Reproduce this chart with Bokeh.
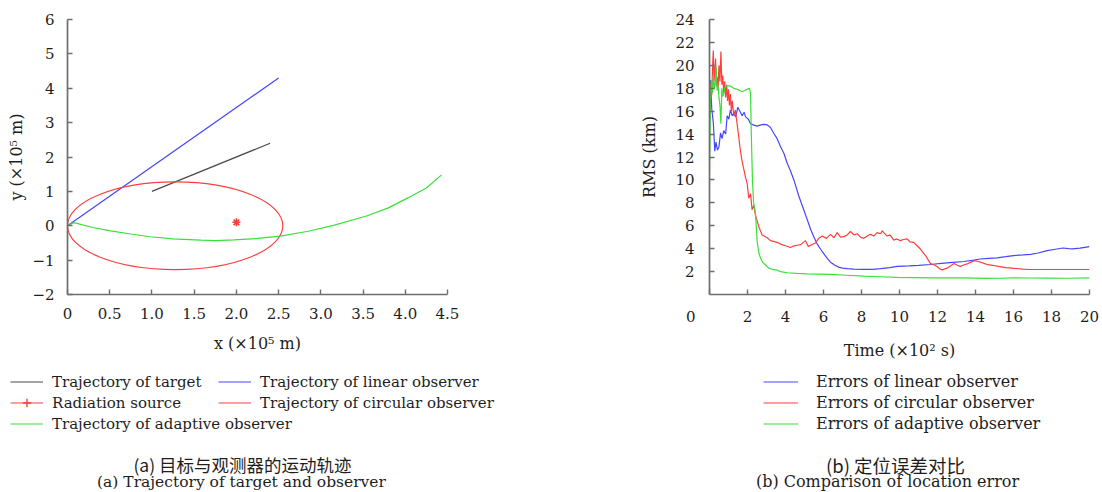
from bokeh.plotting import figure
from bokeh.models import Range1d, FixedTicker, Legend, LegendItem, Label
from bokeh.layouts import row, column
from bokeh.embed import file_html
from bokeh.resources import INLINE

# ---------------- data: (a) trajectories (x10^5 m) ----------------
target_x = [1.0, 2.4]
target_y = [1.0, 2.4]
linear_x = [0.0, 2.5]
linear_y = [0.0, 4.3]
circle_center_x = [1.275]
circle_center_y = [0.0]
circle_diameter = [2.55]
source_x = [2.0]
source_y = [0.1]
adaptive_x = [0.0, 0.075, 0.3, 0.51, 0.75, 0.98, 1.25, 1.58, 1.75, 1.97,
              2.25, 2.52, 2.85, 3.15, 3.55, 3.8, 4.03, 4.25, 4.43]
adaptive_y = [0.0, 0.09, -0.05, -0.15, -0.24, -0.32, -0.38, -0.42, -0.43, -0.41,
              -0.37, -0.30, -0.16, 0.01, 0.29, 0.52, 0.81, 1.1, 1.48]
xticks_a = [0, 0.5, 1.0, 1.5, 2.0, 2.5, 3.0, 3.5, 4.0, 4.5]
xtick_labels_a = ["0", "0.5", "1.0", "1.5", "2.0", "2.5", "3.0", "3.5", "4.0", "4.5"]
yticks_a = [-2, -1, 0, 1, 2, 3, 4, 5, 6]
ytick_labels_a = ["\u22122", "\u22121", "0", "1", "2", "3", "4", "5", "6"]
labels_a = ["Trajectory of target", "Radiation source", "Trajectory of adaptive observer",
            "Trajectory of linear observer", "Trajectory of circular observer"]

# ---------------- data: (b) RMS errors (km) vs time (x10^2 s) ----------------
lin_t = [0.05, 0.12, 0.2, 0.28, 0.34, 0.42, 0.5, 0.58, 0.66, 0.75,
         0.85, 0.93, 1.02, 1.1, 1.2, 1.28, 1.38, 1.49, 1.6, 1.72,
         1.82, 1.9, 2.05, 2.16, 2.3, 2.5, 2.7, 2.86, 3.04, 3.2,
         3.39, 3.56, 3.74, 3.92, 4.09, 4.26, 4.44, 4.7, 4.96, 5.15,
         5.32, 5.5, 5.67, 5.85, 6.02, 6.2, 6.37, 6.6, 6.8, 7.0,
         7.25, 7.6, 8.1, 8.6, 9.0, 9.5, 9.88, 10.5, 11.0, 11.63,
         12.2, 12.8, 13.4, 13.9, 14.26, 14.7, 15.14, 15.6, 16.0, 16.5,
         16.9, 17.3, 17.77, 18.2, 18.6, 18.9, 19.1, 19.5, 20.0]
lin_rms = [18.7, 16.2, 15.0, 12.5, 13.3, 12.6, 12.9, 14.1, 13.6, 14.3,
           14.0, 15.6, 15.3, 16.1, 15.6, 15.8, 15.5, 16.35, 16.0, 15.6,
           15.9, 15.5, 15.3, 14.9, 14.8, 14.7, 14.8, 14.85, 14.8, 14.6,
           14.05, 13.6, 12.9, 12.3, 11.46, 10.8, 10.0, 8.6, 7.4, 6.5,
           5.7, 5.0, 4.4, 3.95, 3.54, 3.15, 2.82, 2.55, 2.39, 2.3,
           2.25, 2.22, 2.19, 2.2, 2.25, 2.35, 2.45, 2.5, 2.55, 2.62,
           2.72, 2.8, 2.88, 3.0, 3.1, 3.15, 3.2, 3.3, 3.4, 3.45,
           3.5, 3.62, 3.83, 3.95, 4.06, 4.0, 3.98, 4.05, 4.17]

circ_t = [0.03, 0.08, 0.12, 0.16, 0.2, 0.24, 0.28, 0.32, 0.36, 0.4,
          0.45, 0.5, 0.55, 0.6, 0.65, 0.7, 0.75, 0.8, 0.85, 0.9,
          0.95, 1.0, 1.05, 1.1, 1.15, 1.2, 1.28, 1.36, 1.46, 1.55,
          1.63, 1.72, 1.81, 1.9, 1.98, 2.07, 2.16, 2.24, 2.33, 2.42,
          2.51, 2.6, 2.77, 3.04, 3.21, 3.56, 3.74, 4.0, 4.26, 4.45,
          4.61, 4.8, 5.05, 5.2, 5.32, 5.58, 5.75, 5.93, 6.15, 6.37,
          6.55, 6.72, 6.9, 7.07, 7.25, 7.42, 7.6, 7.78, 7.95, 8.12,
          8.3, 8.47, 8.65, 8.82, 9.0, 9.09, 9.2, 9.35, 9.5, 9.7,
          9.85, 10.05, 10.2, 10.4, 10.55, 10.75, 10.9, 11.1, 11.37, 11.63,
          11.8, 11.98, 12.1, 12.25, 12.5, 12.7, 12.87, 13.05, 13.2, 13.4,
          13.6, 13.8, 13.95, 14.1, 14.3, 14.65, 14.9, 15.2, 15.6, 16.06,
          16.5, 16.9, 17.5, 18.5, 19.5, 20.0]
circ_rms = [16.8, 18.5, 17.4, 19.8, 21.3, 18.6, 19.5, 20.6, 18.2, 19.0,
            18.0, 20.0, 18.6, 21.2, 18.3, 19.1, 17.6, 18.6, 17.2, 18.3,
            16.9, 17.9, 16.5, 17.5, 16.0, 16.9, 15.6, 16.1, 14.8, 13.6,
            12.5, 11.6, 10.9, 10.2, 9.7, 8.4, 8.8, 7.4, 7.8, 6.9,
            6.4, 5.9, 5.2, 4.95, 4.7, 4.55, 4.4, 4.25, 4.1, 4.25,
            4.3, 4.35, 4.7, 4.2, 4.3, 4.5, 4.9, 5.1, 4.9, 5.25,
            4.95, 5.4, 5.0, 5.05, 5.2, 5.5, 5.2, 5.3, 5.0, 4.9,
            5.1, 5.25, 5.1, 5.4, 5.3, 5.55, 5.35, 5.1, 5.2, 4.75,
            4.85, 4.7, 4.8, 4.85, 4.6, 4.55, 4.3, 3.97, 3.4, 2.7,
            2.6, 2.45, 2.25, 2.15, 2.3, 2.5, 2.7, 2.55, 2.45, 2.6,
            2.7, 2.85, 2.95, 2.9, 2.8, 2.6, 2.55, 2.45, 2.35, 2.28,
            2.22, 2.18, 2.18, 2.18, 2.18, 2.18]

adap_t = [0.0, 0.05, 0.1, 0.15, 0.2, 0.25, 0.3, 0.35, 0.4, 0.45,
          0.5, 0.55, 0.6, 0.65, 0.7, 0.75, 0.8, 0.84, 0.93, 1.1,
          1.28, 1.46, 1.6, 1.72, 1.85, 1.98, 2.1, 2.16, 2.2, 2.26,
          2.32, 2.42, 2.51, 2.6, 2.68, 2.8, 2.94, 3.12, 3.3, 3.56,
          3.74, 4.1, 4.6, 5.14, 5.8, 6.37, 7.2, 8.12, 9.0, 9.88,
          10.8, 11.63, 12.5, 13.4, 14.0, 14.6, 15.3, 16.0, 16.9, 17.77,
          18.9, 20.0]
adap_rms = [10.6, 16.9, 18.7, 17.6, 19.0, 17.9, 18.4, 19.9, 17.8, 18.2,
            17.2, 16.5, 14.9, 18.0, 17.3, 17.5, 18.0, 18.1, 18.2, 18.2,
            18.0, 17.9, 17.8, 17.7, 17.8, 17.9, 18.0, 17.6, 14.0, 10.0,
            8.0, 7.1, 4.6, 3.6, 3.2, 2.8, 2.6, 2.3, 2.2, 2.12,
            2.0, 1.9, 1.85, 1.8, 1.78, 1.75, 1.68, 1.6, 1.55, 1.5,
            1.48, 1.45, 1.45, 1.45, 1.43, 1.4, 1.42, 1.45, 1.44, 1.43,
            1.42, 1.45]
xticks_b = [0, 2, 4, 6, 8, 10, 12, 14, 16, 18, 20]
yticks_b = [2, 4, 6, 8, 10, 12, 14, 16, 18, 20, 22, 24]
labels_b = ["Errors of linear observer", "Errors of circular observer",
            "Errors of adaptive observer"]

captions_a = ["(a) 目标与观测器的运动轨迹", "(a) Trajectory of target and observer"]
captions_b = ["(b) 定位误差对比", "(b) Comparison of location error"]

# ---------------- styles ----------------
SERIF = "DejaVu Serif"
CJK = "Noto Sans CJK SC"
AXIS_COLOR = "#6e6e6e"
TEXT_COLOR = "#1e1e1e"
BLUE = "#4646ff"
RED = "#ff3e3e"
GREEN = "#38e038"
BLACK = "#4a4a4a"
LW = 1.2
NAN = float("nan")


def style(p, ylab_standoff, ytick_standoff):
    for ax in (p.xaxis[0], p.yaxis[0]):
        ax.axis_line_color = AXIS_COLOR
        ax.axis_line_width = 1.7
        ax.major_tick_line_color = AXIS_COLOR
        ax.major_tick_line_width = 1.4
        ax.major_tick_in = 5
        ax.major_tick_out = 0
        ax.minor_tick_line_color = None
        ax.major_label_text_font = SERIF
        ax.major_label_text_font_size = "15px"
        ax.major_label_text_color = TEXT_COLOR
        ax.axis_label_text_font = SERIF
        ax.axis_label_text_font_size = "16px"
        ax.axis_label_text_font_style = "normal"
        ax.axis_label_text_color = TEXT_COLOR
    p.xaxis[0].major_label_standoff = 13
    p.xaxis[0].axis_label_standoff = 12
    p.yaxis[0].major_label_standoff = ytick_standoff
    p.yaxis[0].axis_label_standoff = ylab_standoff
    p.xgrid.visible = False
    p.ygrid.visible = False
    p.outline_line_color = None


def key_figure(w, h):
    k = figure(width=w, height=h, x_range=Range1d(0, w), y_range=Range1d(0, h),
               min_border=0, x_axis_location=None, y_axis_location=None,
               output_backend="svg", toolbar_location=None)
    k.xgrid.visible = False
    k.ygrid.visible = False
    k.outline_line_color = None
    return k


def make_legend(items, loc, glyph_w, standoff, size):
    return Legend(items=items, location=loc, orientation="vertical",
                  glyph_width=glyph_w, glyph_height=21, label_height=21,
                  label_standoff=standoff, spacing=0, padding=0, margin=0,
                  border_line_color=None, background_fill_alpha=0,
                  label_text_font=SERIF, label_text_font_size=size,
                  label_text_color=TEXT_COLOR)


def caption(k, x, y, text, font, size):
    k.add_layout(Label(x=x, y=y, text=text, text_align="center", text_baseline="middle",
                       text_font=font, text_font_size=size, text_color=TEXT_COLOR))


W1, W2, HT, HB = 560, 540, 362, 130

# ---------------- (a) ----------------
p1 = figure(width=W1, height=HT, x_range=Range1d(0, 4.5), y_range=Range1d(-2, 6),
            min_border_left=67, min_border_right=113, min_border_top=19,
            min_border_bottom=65, output_backend="svg", toolbar_location=None)
style(p1, 3, 13)
p1.xaxis[0].ticker = FixedTicker(ticks=xticks_a)
p1.xaxis[0].major_label_overrides = {t: s for t, s in zip(xticks_a, xtick_labels_a)}
p1.yaxis[0].ticker = FixedTicker(ticks=yticks_a)
p1.yaxis[0].major_label_overrides = {t: s for t, s in zip(yticks_a, ytick_labels_a)}
p1.xaxis[0].axis_label = "x (\u00d710\u2075 m)"
p1.yaxis[0].axis_label = "y (\u00d710\u2075 m)"

p1.line(linear_x, linear_y, line_color=BLUE, line_width=LW)
p1.line(target_x, target_y, line_color=BLACK, line_width=LW)
p1.ellipse(x=circle_center_x, y=circle_center_y, width=circle_diameter,
           height=circle_diameter, fill_color=None, line_color=RED, line_width=LW)
p1.line(adaptive_x, adaptive_y, line_color=GREEN, line_width=LW)
p1.scatter(source_x, source_y, marker="asterisk", size=8, line_color=RED, line_width=1.6)

# key + caption area for (a); key renderers hold no visible data
k1 = key_figure(W1, HB)
k_tgt = k1.line([NAN], [NAN], line_color=BLACK, line_width=LW)
k_src_l = k1.line([NAN], [NAN], line_color=RED, line_width=LW)
k_src_m = k1.scatter([NAN], [NAN], marker="cross", line_color=RED, line_width=1.4)
k_adap = k1.line([NAN], [NAN], line_color=GREEN, line_width=LW)
k_lin = k1.line([NAN], [NAN], line_color=BLUE, line_width=LW)
k_circ = k1.line([NAN], [NAN], line_color=RED, line_width=LW)
k1.add_layout(make_legend([
    LegendItem(label=labels_a[0], renderers=[k_tgt]),
    LegendItem(label=labels_a[1], renderers=[k_src_l, k_src_m]),
    LegendItem(label=labels_a[2], renderers=[k_adap]),
], (10, 58), 33, 9, "15px"))
k1.add_layout(make_legend([
    LegendItem(label=labels_a[3], renderers=[k_lin]),
    LegendItem(label=labels_a[4], renderers=[k_circ]),
], (218, 79), 33, 9, "15px"))
caption(k1, 242, 28, captions_a[0], CJK, "17.5px")
caption(k1, 241, 11, captions_a[1], SERIF, "15.5px")

# ---------------- (b) ----------------
p2 = figure(width=W2, height=HT, x_range=Range1d(0, 20), y_range=Range1d(0, 24),
            min_border_left=149, min_border_right=11, min_border_top=19,
            min_border_bottom=65, output_backend="svg", toolbar_location=None)
style(p2, 13, 15)
p2.xaxis[0].ticker = FixedTicker(ticks=xticks_b)
p2.xaxis[0].major_label_overrides = {0: "0\u2003\u2003\u2002"}
p2.yaxis[0].ticker = FixedTicker(ticks=yticks_b)
p2.xaxis[0].axis_label = "Time (\u00d710\u00b2 s)"
p2.yaxis[0].axis_label = "RMS (km)"

p2.line(lin_t, lin_rms, line_color=BLUE, line_width=LW)
p2.line(circ_t, circ_rms, line_color=RED, line_width=LW)
p2.line(adap_t, adap_rms, line_color=GREEN, line_width=LW)

k2 = key_figure(W2, HB)
kb_lin = k2.line([NAN], [NAN], line_color=BLUE, line_width=LW)
kb_circ = k2.line([NAN], [NAN], line_color=RED, line_width=LW)
kb_adap = k2.line([NAN], [NAN], line_color=GREEN, line_width=LW)
k2.add_layout(make_legend([
    LegendItem(label=labels_b[0], renderers=[kb_lin]),
    LegendItem(label=labels_b[1], renderers=[kb_circ]),
    LegendItem(label=labels_b[2], renderers=[kb_adap]),
], (203, 58), 35, 18, "16px"))
caption(k2, 335, 28, captions_b[0], CJK, "18.5px")
caption(k2, 327, 11, captions_b[1], SERIF, "16px")

layout = column(row(p1, p2), row(k1, k2))
open("out.html", "w").write(file_html(layout, INLINE))
